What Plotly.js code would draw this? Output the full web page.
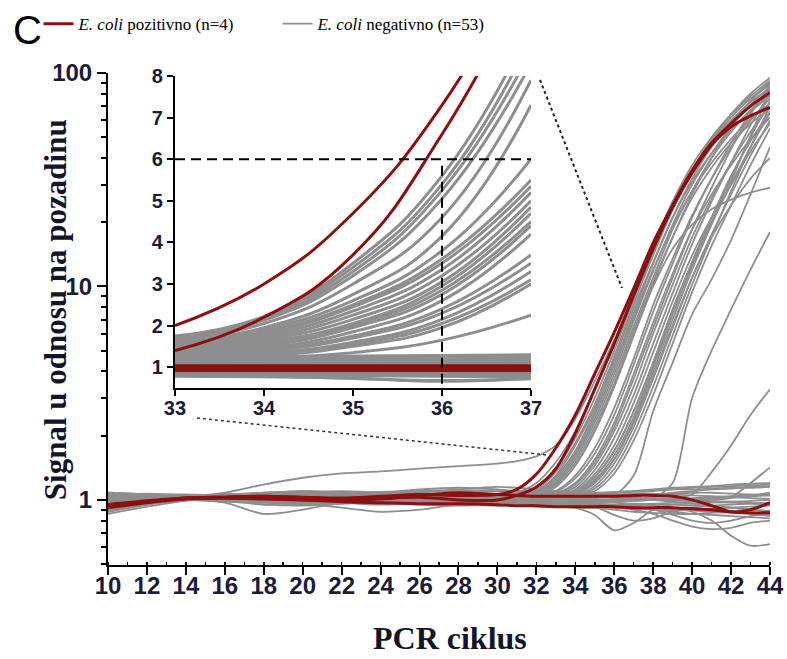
<!DOCTYPE html>
<html><head><meta charset="utf-8">
<script src="https://cdn.plot.ly/plotly-3.0.1.min.js"></script>
<style>html,body{margin:0;padding:0;background:#fff}#chart{width:787px;height:659px}</style>
</head><body><div id="chart"></div>
<script>
// ---------- DATA ----------
const cycles = [10,12,14,16,18,20,22,24,26,28,30,31,32,33,34,35,36,37,38,39,40,41,42,43,44];
const xTickVals = [10,12,14,16,18,20,22,24,26,28,30,32,34,36,38,40,42,44];
const yTickVals = [1,10,100];
const yTickText = ['1','10','100'];
const yMinorVals = [0.5,0.6,0.7,0.8,0.9,2,3,4,5,6,7,8,9,20,30,40,50,60,70,80,90];

// E. coli positive (red), amplifying
const redRising = [
  [0.93,0.98,1.02,1.03,1.04,1.03,1.02,1.04,1.06,1.05,1.06, 1.12,1.32,1.75,2.5,3.9,6.1,9.8,16,24,35,47,58,70,81],
  [0.95,0.99,1.02,1.02,1.01,1.0,1.01,1.02,1.03,1.0,1.0, 1.05,1.15,1.4,2.05,3.3,5.4,9.1,15,23.5,34,46,56,63,69]
];
// E. coli positive (red), flat
const redFlat = [
  [0.95,0.98,1.02,1.03,1.04,1.02,1.0,1.01,1.05,1.08,1.06, 1.05,1.04,1.04,1.04,1.04,1.04,1.05,1.05,1.04,1.0,0.94,0.88,0.9,0.97],
  [0.92,0.97,1.01,1.02,1.02,1.0,0.98,0.97,0.96,0.96,0.95, 0.94,0.94,0.93,0.93,0.93,0.93,0.92,0.92,0.92,0.91,0.9,0.88,0.87,0.87]
];
// E. coli negative (gray), amplifying main fan
const grayFan = [
  [0.97,1.0,1.03,1.08,1.18,1.27,1.33,1.36,1.4,1.44,1.48, 1.52,1.6,1.8,2.4,3.6,5.6,9.2,15,24,35,48,62,76,88],
  [0.93,0.98,1.02,1.03,1.02,1.01,1.02,1.04,1.03,1.02,1.04, 1.08,1.2,1.5,2.1,3.3,5.4,9.4,15.5,25,37,50,64,78,92],
  [1.05,1.04,1.03,1.0,0.98,1.0,1.03,1.06,1.07,1.06,1.05, 1.06,1.15,1.4,1.95,3.0,5.0,8.7,14.5,23,34,47,60,73,85],
  [0.88,0.95,1.0,1.01,0.99,0.97,0.98,1.0,1.02,1.01,1.02, 1.05,1.12,1.35,1.85,2.8,4.7,8.3,14,23,35,49,64,80,95],
  [1.0,1.02,1.04,1.06,1.08,1.1,1.08,1.06,1.05,1.06,1.04, 1.04,1.1,1.3,1.8,2.7,4.5,7.9,13,21,31,42,54,66,78],
  [0.96,0.99,1.01,0.99,0.95,0.94,0.96,0.99,1.01,1.0,1.02, 1.05,1.1,1.28,1.7,2.6,4.3,7.5,12.8,21,32,45,59,74,90],
  [1.08,1.06,1.03,1.02,1.03,1.05,1.07,1.09,1.1,1.09,1.05, 1.03,1.08,1.25,1.65,2.5,4.1,7.2,12,19,28,38,49,61,72],
  [0.9,0.96,1.0,1.02,1.04,1.03,1.0,0.97,0.96,0.97,1.0, 1.04,1.08,1.22,1.6,2.4,3.9,6.9,11.8,19.5,30,42,56,71,86],
  [1.02,1.03,1.02,1.01,1.0,1.02,1.04,1.05,1.04,1.03,1.02, 1.02,1.06,1.2,1.55,2.3,3.7,6.5,11,18.5,28,40,53,67,80],
  [0.95,1.0,1.03,1.04,1.03,1.02,1.01,1.03,1.05,1.06,1.04, 1.03,1.06,1.18,1.5,2.2,3.5,6.2,10.5,17,26,36,47,58,68],
  [1.03,1.02,1.01,1.03,1.06,1.08,1.07,1.05,1.03,1.02,1.02, 1.02,1.05,1.16,1.45,2.1,3.4,5.9,10.2,17,27,40,56,74,92],
  [0.92,0.97,1.01,1.0,0.98,0.99,1.02,1.04,1.06,1.05,1.02, 1.01,1.03,1.1,1.3,1.75,2.7,4.6,8.2,13.5,21.5,32,45,60,76],
  [1.06,1.05,1.03,1.01,1.0,1.0,1.01,1.02,1.04,1.07,1.05, 1.02,1.04,1.09,1.26,1.65,2.5,4.3,7.6,12.8,21,32,47,65,84],
  [0.98,1.0,1.02,1.04,1.05,1.04,1.02,1.0,0.99,1.0,1.01, 1.01,1.02,1.07,1.2,1.55,2.3,3.9,6.8,11.5,18.5,27,37,49,62],
  [0.94,0.99,1.03,1.05,1.06,1.05,1.03,1.04,1.06,1.08,1.05, 1.02,1.03,1.06,1.18,1.5,2.2,3.7,6.4,11,18.5,29,44,64,88],
  [1.04,1.03,1.01,0.99,0.98,0.99,1.0,1.02,1.03,1.02,1.0, 1.0,1.02,1.05,1.15,1.45,2.1,3.4,6.0,10.2,17,26,38,53,70],
  [0.91,0.97,1.02,1.04,1.03,1.01,1.0,1.01,1.03,1.04,1.02, 1.01,1.02,1.04,1.12,1.38,1.95,3.1,5.4,9.3,15.8,25,38,57,80],
  [1.01,1.02,1.04,1.05,1.03,1.0,0.97,0.95,0.97,1.0,1.0, 1.0,1.01,1.04,1.1,1.32,1.8,2.85,4.9,8.5,14,21,30,43,58],
  [0.97,1.0,1.02,1.02,1.01,1.03,1.06,1.08,1.07,1.04,1.02, 1.01,1.01,1.03,1.08,1.28,1.7,2.6,4.4,7.8,13,21,32,50,74],
  [1.07,1.05,1.02,1.0,1.0,1.01,1.03,1.04,1.02,1.0,0.99, 1.0,1.01,1.03,1.07,1.24,1.62,2.45,4.2,7.4,12.5,20,30,45,65],
  [0.93,0.98,1.01,1.02,1.02,1.03,1.05,1.06,1.05,1.03,1.01, 1.0,1.01,1.02,1.06,1.2,1.55,2.35,4.0,7.0,12,19.5,31,51,82],
  [1.0,1.01,1.02,1.03,1.05,1.07,1.08,1.06,1.03,1.01,1.0, 1.0,1.0,1.02,1.05,1.16,1.48,2.2,3.7,6.4,11,17.5,27,41,60],
  [0.95,0.99,1.02,1.01,0.98,0.96,0.97,1.0,1.02,1.03,1.01, 1.0,1.0,1.02,1.04,1.13,1.4,2.05,3.4,5.9,10.2,17,28,45,70],
  [1.04,1.04,1.03,1.02,1.02,1.03,1.04,1.03,1.01,1.0,1.0, 1.0,1.0,1.01,1.03,1.1,1.33,1.9,3.1,5.4,9.4,15.5,24,37,55],
  [0.9,0.96,1.0,1.03,1.05,1.06,1.05,1.03,1.0,0.98,0.98, 0.99,1.0,1.03,1.08,1.28,1.7,2.6,4.4,7.8,13,21,33,48,66],
  [1.02,1.03,1.04,1.02,0.99,0.98,1.0,1.03,1.05,1.04,1.02, 1.0,1.0,1.02,1.06,1.22,1.55,2.3,3.8,6.6,11,17,24,32,40],
  [0.96,1.0,1.03,1.05,1.04,1.02,1.01,1.02,1.04,1.05,1.04, 1.02,1.05,1.15,1.45,2.1,3.4,5.9,10,15,19.5,23,25.5,27.5,29]
];
// E. coli negative (gray), late amplifying
const grayLate = [
  [1.0,1.01,1.02,1.03,1.02,1.0,0.98,0.97,0.98,1.0,1.01, 1.0,1.0,1.0,1.01,1.02,1.05,1.3,2.6,4.4,7.4,10.8,16.5,27,45],
  [0.97,0.99,1.01,1.0,0.99,1.0,1.02,1.03,1.02,1.01,1.0, 0.99,0.98,0.98,0.98,0.99,1.0,1.0,1.02,1.2,3.0,5.0,7.8,12,18],
  [1.03,1.03,1.02,1.01,1.0,1.0,1.0,1.01,1.02,1.02,1.01, 1.0,1.0,0.99,0.99,0.99,1.0,1.0,1.0,1.02,1.06,1.35,1.8,2.5,3.3],
  [0.95,0.98,1.0,1.02,1.04,1.05,1.04,1.02,1.0,0.99,0.99, 0.99,1.0,1.0,1.0,1.0,1.0,1.0,1.0,1.0,1.0,1.01,1.03,1.2,1.42]
];
// E. coli negative (gray), flat
const grayFlat = [
  [0.92,0.97,1.0,1.02,1.0,0.98,1.0,1.02,1.03,1.02,1.0, 1.0,1.0,1.01,1.02,1.03,1.04,1.05,1.06,1.08,1.1,1.12,1.13,1.15,1.16],
  [0.88,0.95,1.0,1.03,1.05,1.08,1.1,1.08,1.05,1.04,1.03, 1.02,1.02,1.01,1.0,0.98,0.97,0.96,0.96,0.97,0.98,1.0,1.02,1.05,1.08],
  [1.05,1.07,1.05,1.02,0.95,0.98,1.02,1.04,1.05,1.03,1.02, 1.02,1.03,1.04,1.05,1.06,1.08,1.1,1.12,1.14,1.15,1.16,1.18,1.19,1.2],
  [0.9,0.96,1.0,0.97,0.86,0.9,0.97,1.0,0.98,0.95,0.94, 0.94,0.93,0.93,0.92,0.92,0.93,0.94,0.95,0.95,0.94,0.93,0.92,0.9,0.88],
  [1.0,1.05,1.06,1.04,1.0,0.96,0.92,0.88,0.9,0.95,0.97, 0.98,0.98,0.97,0.96,0.95,0.93,0.92,0.9,0.88,0.86,0.85,0.84,0.83,0.82],
  [0.95,0.99,1.02,1.01,1.0,1.0,1.01,1.02,1.0,0.99,0.98, 0.97,0.96,0.95,0.92,0.85,0.72,0.78,0.9,0.95,0.96,0.97,0.98,0.99,1.0],
  [0.98,1.0,1.03,1.04,1.03,1.02,1.0,1.0,1.02,1.03,1.02, 1.0,0.99,0.98,0.97,0.96,0.95,0.95,0.94,0.92,0.88,0.8,0.68,0.61,0.62],
  [1.02,1.03,1.02,1.0,0.98,0.97,0.98,1.0,1.01,1.0,0.99, 0.98,0.97,0.96,0.95,0.94,0.92,0.9,0.86,0.8,0.75,0.73,0.74,0.78,0.8],
  [0.9,0.97,1.01,1.05,1.08,1.1,1.09,1.07,1.06,1.08,1.1, 1.1,1.1,1.09,1.08,1.08,1.09,1.1,1.11,1.12,1.12,1.13,1.14,1.14,1.15],
  [1.08,1.06,1.03,1.0,0.97,0.95,0.96,0.98,1.0,1.01,1.0, 0.99,0.98,0.98,0.97,0.97,0.98,0.99,1.0,1.0,0.99,0.98,0.97,0.96,0.95],
  [0.93,0.98,1.02,1.06,1.04,1.02,1.05,1.08,1.12,1.14,1.12, 1.1,1.09,1.08,1.07,1.06,1.05,1.05,1.06,1.07,1.08,1.08,1.07,1.06,1.05],
  [0.96,1.0,1.04,1.03,1.01,1.0,0.99,0.97,0.95,0.94,0.95, 0.96,0.96,0.95,0.94,0.93,0.92,0.91,0.9,0.89,0.9,0.91,0.92,0.93,0.94],
  [1.03,1.04,1.04,1.06,1.07,1.06,1.04,1.03,1.04,1.06,1.07, 1.07,1.06,1.05,1.04,1.03,1.02,1.01,1.0,1.0,1.01,1.02,1.03,1.04,1.05],
  [0.86,0.93,0.99,1.01,1.02,1.03,1.02,1.0,0.99,0.98,0.97, 0.96,0.95,0.94,0.93,0.92,0.9,0.88,0.87,0.86,0.86,0.87,0.88,0.86,0.84],
  [1.0,1.02,1.01,1.0,1.02,1.04,1.06,1.08,1.1,1.11,1.1, 1.09,1.08,1.08,1.07,1.06,1.04,1.02,1.0,0.98,0.96,0.94,0.92,0.9,0.89],
  [0.94,0.98,1.0,1.0,0.99,0.98,0.97,0.96,0.97,0.99,1.0, 1.01,1.02,1.03,1.04,1.05,1.06,1.07,1.07,1.06,1.05,1.04,1.03,1.02,1.01],
  [1.01,1.02,1.0,0.98,0.97,0.99,1.01,1.03,1.02,1.0,0.99, 0.98,0.97,0.97,0.96,0.95,0.94,0.92,0.9,0.85,0.8,0.78,0.8,0.84,0.87],
  [0.99,1.01,1.03,1.04,1.05,1.04,1.03,1.05,1.07,1.06,1.05, 1.04,1.04,1.05,1.06,1.07,1.08,1.09,1.1,1.12,1.14,1.15,1.16,1.17,1.18],
  [0.97,0.99,1.01,1.02,1.03,1.05,1.07,1.06,1.04,1.02,1.01, 1.0,1.0,1.0,0.99,0.98,0.98,0.99,1.0,1.01,1.02,1.03,1.04,1.05,1.06],
  [1.06,1.05,1.04,1.02,1.0,1.01,1.03,1.05,1.08,1.12,1.15, 1.14,1.12,1.1,1.08,1.06,1.04,1.03,1.02,1.01,1.0,0.99,0.98,0.97,0.96],
  [0.91,0.96,1.0,1.01,1.01,1.0,0.99,0.98,0.98,0.99,1.0, 1.0,0.99,0.98,0.96,0.94,0.93,0.92,0.91,0.9,0.89,0.88,0.87,0.86,0.85],
  [1.0,1.01,1.02,1.01,1.0,0.99,1.0,1.01,1.02,1.03,1.02, 1.01,1.0,0.99,0.97,0.93,0.85,0.8,0.82,0.88,0.92,0.94,0.95,0.96,0.97]
];

// Inset (linear scale, cycles 33-37)
const insetCycles = [33,34,35,36,37];
const insetRedRising = [
  [2.0,3.0,4.7,7.3,11.0],
  [1.4,2.2,3.7,6.6,10.5]
];
const insetRedFlat = [
  [1.02,1.02,1.02,1.02,1.02],
  [0.935,0.935,0.935,0.935,0.935]
];
const insetGrayRising = [
  [1.75,2.22,3.5,5.6,9.2],
  [1.72,2.2,3.4,5.4,8.9],
  [1.7,2.17,3.3,5.25,8.6],
  [1.68,2.13,3.2,5.05,8.3],
  [1.65,2.05,3.0,4.6,7.9],
  [1.6,1.95,2.75,4.15,7.3],
  [1.55,1.9,2.6,3.8,6.0],
  [1.5,1.85,2.5,3.6,5.5],
  [1.5,1.8,2.45,3.5,5.35],
  [1.45,1.75,2.35,3.35,5.2],
  [1.42,1.7,2.25,3.2,5.0],
  [1.4,1.65,2.15,3.05,4.85],
  [1.38,1.6,2.05,2.95,4.7],
  [1.35,1.55,2.0,2.85,4.5],
  [1.32,1.5,1.95,2.75,4.4],
  [1.3,1.45,1.85,2.6,4.2],
  [1.28,1.42,1.75,2.4,3.7],
  [1.25,1.38,1.7,2.3,3.5],
  [1.22,1.33,1.6,2.15,3.3],
  [1.2,1.3,1.55,2.05,3.1],
  [1.18,1.27,1.5,1.95,3.0],
  [1.15,1.22,1.35,1.65,2.25]
];
const insetGrayFlat = [
  [1.25,1.26,1.27,1.28,1.3],[1.2,1.21,1.22,1.24,1.25],[1.15,1.16,1.17,1.18,1.2],
  [1.12,1.12,1.13,1.14,1.15],[1.1,1.1,1.1,1.1,1.1],[1.06,1.06,1.07,1.07,1.08],
  [1.03,1.03,1.04,1.04,1.05],[1.0,1.0,1.0,1.0,1.0],[0.97,0.97,0.97,0.96,0.96],
  [0.95,0.94,0.93,0.92,0.92],[0.92,0.91,0.9,0.89,0.88],[0.9,0.89,0.87,0.86,0.85],
  [0.86,0.85,0.83,0.81,0.8],[0.83,0.82,0.8,0.78,0.76],[0.8,0.78,0.73,0.68,0.72],
  [0.78,0.77,0.74,0.66,0.74]
];
const thresholdSignal = 6;
const thresholdCycle = 36;

// ---------- STYLE ----------
const RED = '#8c1010';
const GRAY = '#8e8e8e';
const nameNeg = '<i>E. coli</i> negativno (n=53)';
const namePos = '<i>E. coli</i> pozitivno (n=4)';
const traces = [];
function addSet(sets, xs, color, width, smooth, name, legendFirst, axes) {
  sets.forEach((ys, i) => {
    traces.push({
      type: 'scatter', mode: 'lines', x: xs, y: ys,
      xaxis: axes[0], yaxis: axes[1],
      line: {color: color, width: width, shape: 'spline', smoothing: smooth},
      name: name, legendgroup: name,
      showlegend: legendFirst && i === 0,
      legendrank: color === RED ? 1 : 2,
      hoverinfo: 'skip'
    });
  });
}
addSet(grayFlat, cycles, GRAY, 1.8, 0.8, nameNeg, false, ['x','y']);
addSet(grayLate, cycles, GRAY, 1.8, 0.8, nameNeg, false, ['x','y']);
addSet(grayFan, cycles, GRAY, 1.8, 0.8, nameNeg, true, ['x','y']);
addSet(redFlat, cycles, RED, 3, 0.8, namePos, false, ['x','y']);
addSet(redRising, cycles, RED, 3, 0.8, namePos, true, ['x','y']);
addSet(insetGrayFlat, insetCycles, GRAY, 3, 1.3, nameNeg, false, ['x2','y2']);
addSet(insetGrayRising, insetCycles, GRAY, 3, 1.3, nameNeg, false, ['x2','y2']);
addSet(insetRedFlat, insetCycles, RED, 4, 1.3, namePos, false, ['x2','y2']);
addSet(insetRedRising, insetCycles, RED, 3, 1.3, namePos, false, ['x2','y2']);

const SANS = '"Liberation Sans", Arial, sans-serif';
const SERIF = '"Liberation Serif", "Times New Roman", serif';
const TICKCOL = '#1b1b3a';
const mainTickFont = {family: SANS, size: 24, color: TICKCOL, weight: 'bold'};
const insetTickFont = {family: SANS, size: 20, color: TICKCOL, weight: 'bold'};
const axisCommon = {showline: true, linewidth: 2, linecolor: '#000', showgrid: false, zeroline: false,
  ticks: 'outside', tickwidth: 2, tickcolor: '#000'};

const layout = {
  width: 787, height: 659,
  margin: {l: 108, r: 17, t: 73, b: 94, autoexpand: false},
  paper_bgcolor: '#fff', plot_bgcolor: '#fff',
  showlegend: true,
  legend: {orientation: 'h', x: -0.105, xanchor: 'left', y: 1.136, yanchor: 'top',
    font: {family: SERIF, size: 17, color: '#000'}, entrywidth: 194, entrywidthmode: 'pixels',
    bgcolor: 'rgba(0,0,0,0)', itemwidth: 30},
  xaxis: Object.assign({}, axisCommon, {domain: [0, 1], range: [10, 44], tickmode: 'array', tickvals: xTickVals,
    ticklen: 8, tickfont: mainTickFont, ticklabelstandoff: -10,
    minor: {tickmode: 'linear', tick0: 10, dtick: 1, ticks: 'inside', ticklen: 3, tickwidth: 1.5, tickcolor: '#000', showgrid: false}}),
  yaxis: Object.assign({}, axisCommon, {type: 'log', range: [-0.305, 2], tickmode: 'array', tickvals: yTickVals, ticktext: yTickText,
    ticklen: 9, tickfont: mainTickFont,
    minor: {tickmode: 'array', tickvals: yMinorVals, ticks: 'outside', ticklen: 5, tickwidth: 2, tickcolor: '#000', showgrid: false}}),
  xaxis2: Object.assign({}, axisCommon, {domain: [0.1012, 0.639], anchor: 'y2', range: [33, 37], dtick: 1, tick0: 33,
    ticklen: 6, tickfont: insetTickFont, ticklabelstandoff: -5}),
  yaxis2: Object.assign({}, axisCommon, {domain: [0.3598, 0.9939], anchor: 'x2', range: [0.5, 8], dtick: 1, tick0: 0,
    ticklen: 6, tickfont: insetTickFont}),
  shapes: [
    {type: 'line', xref: 'x2', yref: 'y2', x0: 33, x1: 37, y0: thresholdSignal, y1: thresholdSignal,
      line: {color: '#000', width: 2, dash: '10px,6px'}},
    {type: 'line', xref: 'x2', yref: 'y2', x0: thresholdCycle, x1: thresholdCycle, y0: 0.6, y1: 5.85,
      line: {color: '#000', width: 2, dash: '10px,6px'}},
    {type: 'line', xref: 'paper', yref: 'paper', x0: 0.6526, y0: 0.9858, x1: 0.7764, y1: 0.5630,
      line: {color: '#222', width: 2, dash: 'dot'}},
    {type: 'line', xref: 'paper', yref: 'paper', x0: 0.1344, y0: 0.2988, x1: 0.6631, y1: 0.2236,
      line: {color: '#333', width: 1.5, dash: 'dot'}}
  ],
  annotations: [
    {text: 'C', xref: 'paper', yref: 'paper', x: -0.147, y: 1.087, xanchor: 'left', yanchor: 'middle',
      showarrow: false, font: {family: SANS, size: 40, color: '#000'}},
    {text: 'Signal u odnosu na pozadinu', xref: 'paper', yref: 'paper', x: -0.080, y: 0.518,
      xanchor: 'center', yanchor: 'middle', textangle: -90, showarrow: false,
      font: {family: SERIF, size: 31, color: '#14142a', weight: 'bold'}},
    {text: 'PCR ciklus', xref: 'paper', yref: 'paper', x: 0.517, y: -0.148,
      xanchor: 'center', yanchor: 'middle', showarrow: false,
      font: {family: SERIF, size: 32, color: '#14142a', weight: 'bold'}}
  ]
};

Plotly.newPlot('chart', traces, layout, {displayModeBar: false, staticPlot: true});
</script>
</body></html>
